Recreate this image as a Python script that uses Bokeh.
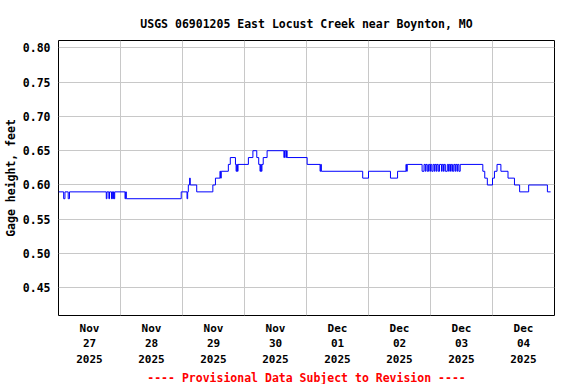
import pandas as pd
from bokeh.plotting import figure
from bokeh.models import FixedTicker, Range1d, PrintfTickFormatter, Title
from bokeh.embed import file_html
from bokeh.resources import INLINE

title_text = "USGS 06901205 East Locust Creek near Boynton, MO"
y_label_text = "Gage height, feet"
footer_text = "---- Provisional Data Subject to Revision ----"

start = "2025-11-27 00:00"
end = "2025-12-05 00:00"

# change points: hours after start, gage height (ft)
hours = [0.0, 2.0, 2.5, 3.75, 4.25,
         18.5, 18.75, 19.5, 19.75, 20.5, 20.75, 21.0, 21.25, 21.5, 21.75,
         25.75, 26.0, 26.25, 47.5, 49.75, 50.0, 50.25, 50.75, 51.0, 53.5,
         59.75, 60.75, 62.5, 62.75, 63.0, 65.75, 66.5, 68.5, 68.75, 69.0, 69.25, 69.5,
         73.5, 75.25, 76.75, 77.5, 78.0, 78.25, 78.5, 78.75, 79.25, 80.75,
         87.25, 87.5, 88.0, 88.25, 88.5, 96.25, 101.25, 101.5, 101.75,
         117.75, 120.0, 128.5, 131.25, 134.5, 134.75, 135.0,
         140.75, 141.5, 142.0, 142.25, 142.75, 143.25, 143.75, 144.0,
         144.5, 145.0, 145.5, 145.75, 146.25, 146.5, 147.0, 147.5,
         148.25, 148.5, 149.0, 149.25, 149.75, 150.5, 151.0, 151.25,
         151.75, 152.0, 152.5, 153.0, 153.5, 153.75, 154.25, 154.5, 155.0, 155.5,
         164.25, 165.0, 166.0, 168.0, 168.75, 169.75, 171.25, 174.0, 176.5, 178.5,
         182.0, 189.25, 190.5]
gage = [0.59, 0.58, 0.59, 0.58, 0.59,
        0.58, 0.59, 0.58, 0.59, 0.58, 0.59, 0.58, 0.59, 0.58, 0.59,
        0.58, 0.59, 0.58, 0.59, 0.58, 0.59, 0.60, 0.61, 0.60, 0.59,
        0.60, 0.61, 0.62, 0.61, 0.62, 0.63, 0.64, 0.63, 0.62, 0.63, 0.62, 0.63,
        0.64, 0.65, 0.64, 0.63, 0.62, 0.63, 0.62, 0.63, 0.64, 0.65,
        0.64, 0.65, 0.64, 0.65, 0.64, 0.63, 0.62, 0.63, 0.62,
        0.61, 0.62, 0.61, 0.62, 0.63, 0.62, 0.63,
        0.62, 0.63, 0.62, 0.63, 0.62, 0.63, 0.62, 0.63,
        0.62, 0.63, 0.62, 0.63, 0.62, 0.63, 0.62, 0.63,
        0.62, 0.63, 0.62, 0.63, 0.62, 0.63, 0.62, 0.63,
        0.62, 0.63, 0.62, 0.63, 0.62, 0.63, 0.62, 0.63, 0.62, 0.63,
        0.62, 0.61, 0.60, 0.61, 0.62, 0.63, 0.62, 0.61, 0.60, 0.59,
        0.60, 0.59, 0.59]

tick_days = ["2025-11-27", "2025-11-28", "2025-11-29", "2025-11-30",
             "2025-12-01", "2025-12-02", "2025-12-03", "2025-12-04"]
tick_labels = ["Nov\n27\n2025", "Nov\n28\n2025", "Nov\n29\n2025", "Nov\n30\n2025",
               "Dec\n01\n2025", "Dec\n02\n2025", "Dec\n03\n2025", "Dec\n04\n2025"]
grid_days = ["2025-11-28", "2025-11-29", "2025-11-30", "2025-12-01",
             "2025-12-02", "2025-12-03", "2025-12-04"]
y_ticks = [0.45, 0.50, 0.55, 0.60, 0.65, 0.70, 0.75, 0.80]

FONT = "DejaVu Sans Mono"

times = pd.Timestamp(start) + pd.to_timedelta(hours, unit="h")

p = figure(width=576, height=384, output_backend="svg", toolbar_location=None,
           x_axis_type="datetime",
           x_range=Range1d(pd.Timestamp(start), pd.Timestamp(end)),
           y_range=Range1d(0.4098, 0.8106),
           min_border_left=58, min_border_right=22, min_border_top=40, min_border_bottom=68)
p.background_fill_color = "white"
p.border_fill_color = "white"
p.outline_line_color = "black"
p.outline_line_width = 1

p.step(x=times, y=gage, mode="after", line_color="#0000ff", line_width=1)

noon_ticks = [int((pd.Timestamp(d) + pd.Timedelta(hours=12)).value // 10**6) for d in tick_days]
mid_ticks = [int(pd.Timestamp(d).value // 10**6) for d in grid_days]

xa = p.xaxis[0]
xa.ticker = FixedTicker(ticks=noon_ticks)
xa.major_label_overrides = {t: lab for t, lab in zip(noon_ticks, tick_labels)}
xa.major_tick_line_color = None
xa.major_tick_out = 0
xa.major_tick_in = 0
xa.minor_tick_line_color = None
xa.minor_tick_out = 0
xa.axis_line_color = None
xa.major_label_standoff = 6
xa.major_label_text_font = FONT
xa.major_label_text_font_style = "bold"
xa.major_label_text_font_size = "11px"
xa.major_label_text_color = "black"

ya = p.yaxis[0]
ya.ticker = FixedTicker(ticks=y_ticks)
ya.formatter = PrintfTickFormatter(format="%.2f")
ya.major_tick_line_color = None
ya.major_tick_out = 0
ya.major_tick_in = 0
ya.minor_tick_line_color = None
ya.minor_tick_out = 0
ya.axis_line_color = None
ya.major_label_standoff = 8
ya.major_label_text_font = FONT
ya.major_label_text_font_style = "bold"
ya.major_label_text_font_size = "11.5px"
ya.major_label_text_color = "black"
ya.axis_label = y_label_text
ya.axis_label_standoff = 2
ya.axis_label_text_font = FONT
ya.axis_label_text_font_style = "bold"
ya.axis_label_text_font_size = "11.5px"
ya.axis_label_text_color = "black"

p.xgrid.ticker = FixedTicker(ticks=mid_ticks)
p.ygrid.ticker = FixedTicker(ticks=y_ticks)
for g in (p.xgrid[0], p.ygrid[0]):
    g.grid_line_color = "#c8c8c8"
    g.grid_line_width = 1

p.title.text = title_text
p.title.align = "center"
p.title.standoff = 19
p.title.text_font = FONT
p.title.text_font_style = "bold"
p.title.text_font_size = "11.5px"
p.title.text_color = "black"

p.add_layout(Title(text=footer_text, align="center", standoff=0, text_font=FONT,
                   text_font_style="bold", text_font_size="11.5px",
                   text_color="#ff0000"), "below")

open("out.html", "w").write(file_html(p, INLINE))
